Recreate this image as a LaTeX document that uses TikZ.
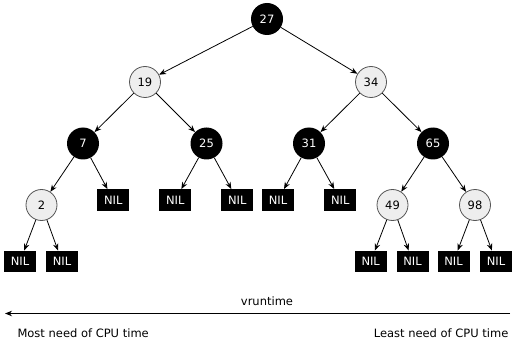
\documentclass[tikz,border=0pt]{standalone}
\usepackage{fontspec}
\setmainfont{DejaVu Sans}
\usetikzlibrary{arrows.meta}
\definecolor{nodegray}{HTML}{EEEEEE}
\definecolor{bordergray}{HTML}{555555}
\begin{document}
\begin{tikzpicture}[x=1pt,y=-1pt,
  every node/.style={font=\fontsize{11.5}{14}\selectfont},
  blk/.style={circle,fill=black,text=white,minimum size=32pt,inner sep=0pt},
  red/.style={circle,fill=nodegray,draw=bordergray,line width=0.8pt,text=black,minimum size=31pt,inner sep=0pt},
  nil/.style={rectangle,fill=black,text=white,minimum width=32pt,minimum height=21.5pt,inner sep=0pt},
  edge/.style={draw=black,line width=0.8pt,-{Stealth[length=7pt,width=5.5pt]}}]
\useasboundingbox (0,0) rectangle (514,342);
\node[blk] (n27) at (267,19) {27};
\node[red] (n19) at (145,82) {19};
\node[red] (n34) at (371,82) {34};
\node[blk] (n7) at (83,143.5) {7};
\node[blk] (n25) at (206.5,143.5) {25};
\node[blk] (n31) at (309,143.5) {31};
\node[blk] (n65) at (433,143.5) {65};
\node[red] (n2) at (41.5,205) {2};
\node[nil] (nil7) at (113.3,200) {NIL};
\node[nil] (nil25a) at (175.3,200) {NIL};
\node[nil] (nil25b) at (237.3,200) {NIL};
\node[nil] (nil31a) at (278,200) {NIL};
\node[nil] (nil31b) at (340.3,200) {NIL};
\node[red] (n49) at (392.5,205) {49};
\node[red] (n98) at (475,205) {98};
\node[nil] (nil2a) at (20,261.5) {NIL};
\node[nil] (nil2b) at (62,261.5) {NIL};
\node[nil] (nil49a) at (370.7,261.5) {NIL};
\node[nil] (nil49b) at (412.5,261.5) {NIL};
\node[nil] (nil98a) at (453.5,261.5) {NIL};
\node[nil] (nil98b) at (496,261.5) {NIL};
\path[edge] (n27) -- (n19);
\path[edge] (n27) -- (n34);
\path[edge] (n19) -- (n7);
\path[edge] (n19) -- (n25);
\path[edge] (n34) -- (n31);
\path[edge] (n34) -- (n65);
\path[edge] (n7) -- (n2);
\path[edge] (n7) -- (nil7);
\path[edge] (n25) -- (nil25a);
\path[edge] (n25) -- (nil25b);
\path[edge] (n31) -- (nil31a);
\path[edge] (n31) -- (nil31b);
\path[edge] (n65) -- (n49);
\path[edge] (n65) -- (n98);
\path[edge] (n2) -- (nil2a);
\path[edge] (n2) -- (nil2b);
\path[edge] (n49) -- (nil49a);
\path[edge] (n49) -- (nil49b);
\path[edge] (n98) -- (nil98a);
\path[edge] (n98) -- (nil98b);
\coordinate (aR) at (510,313.5);
\coordinate (aL) at (5,313.5);
\path[edge] (aR) -- (aL);
\node (vr) at (267,301) {vruntime};
\node[anchor=west] (most) at (14,333) {Most need of CPU time};
\node[anchor=east] (least) at (512,333) {Least need of CPU time};
\end{tikzpicture}
\end{document}
